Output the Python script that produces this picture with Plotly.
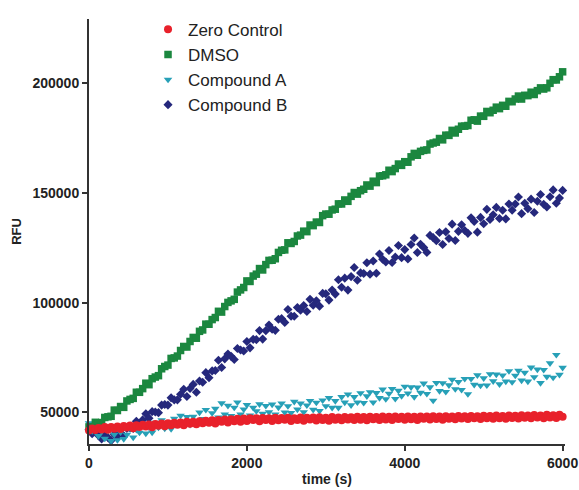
import plotly.graph_objects as go

# sampling times (s), one reading every 40 s
time_s = list(range(0, 6001, 40))

zero_control = [
    41700, 42600, 41900, 42800, 42100, 43200, 42000, 43300, 42500, 43500,
    42400, 43700, 43000, 43900, 42700, 44100, 43200, 44300, 43500, 44400,
    43100, 44600, 43800, 44900, 43600, 45000, 44100, 45200, 44300, 45300,
    44000, 45600, 44700, 45700, 44500, 45900, 45000, 46100, 45200, 46300,
    44900, 46500, 45600, 46700, 45300, 46800, 45900, 47000, 45700, 47100,
    46000, 47300, 46400, 47200, 45900, 47400, 46500, 47300, 46000, 47500,
    46300, 47400, 46600, 47500, 46000, 47300, 46500, 47600, 46100, 47500,
    46700, 47600, 46200, 47700, 46500, 47500, 46100, 47800, 46600, 47600,
    46300, 47800, 46700, 47700, 46400, 47900, 46600, 47800, 46300, 47900,
    46800, 47800, 46500, 48000, 46700, 47900, 46400, 48000, 46900, 47900,
    46600, 48100, 46800, 47900, 46500, 48100, 47000, 48000, 46700, 48200,
    46900, 48100, 46600, 48200, 47000, 48100, 46800, 48300, 47100, 48200,
    46900, 48300, 47200, 48200, 46900, 48400, 47200, 48300, 47000, 48500,
    47300, 48300, 47000, 48500, 47400, 48400, 47100, 48600, 47500, 48500,
    47200, 48700, 47600, 48500, 47300, 48800, 47600, 48600, 47400, 48800, 47900]

dmso = [
    43300, 43300, 45400, 45200, 45300, 47600, 47900, 48140, 50960, 50780,
    52600, 52220, 55140, 55840, 56320, 59100, 59080, 60760, 63240, 62560,
    65300, 66040, 66680, 69820, 70860, 71500, 74540, 74780, 75620, 78160,
    80000, 79740, 82280, 84120, 83760, 86900, 87540, 90180, 90120, 92260,
    93200, 96040, 95680, 98220, 100100, 100800, 101500, 104800, 105800, 106900,
    109900, 109660, 112120, 112980, 115540, 114900, 117360, 119260, 119340, 120020,
    122900, 123880, 124060, 127300, 127000, 127900, 130400, 130800, 132600, 132380,
    135400, 135120, 136740, 136560, 139680, 140400, 140340, 142280, 142620, 145060,
    145000, 146840, 146220, 148480, 150240, 149500, 151060, 151720, 153680, 153140,
    155400, 154760, 157720, 157880, 158320, 160400, 159780, 161160, 163240, 162620,
    164300, 164060, 166520, 168080, 167240, 169000, 169460, 169660, 172340, 172820,
    173200, 174880, 174260, 176400, 176300, 178600, 177400, 179100, 180500, 180500,
    180800, 183200, 183400, 182800, 185100, 185000, 187220, 186640, 187760, 189180,
    188500, 190020, 189580, 191820, 191660, 192900, 194240, 192880, 194580, 194440,
    196000, 194960, 196720, 197980, 197440, 198000, 200060, 201720, 201580, 203040, 205300]

compound_a = [
    45000, 41400, 44600, 39200, 41400, 38000, 41500, 36900, 39800, 37300,
    40900, 37800, 39800, 42600, 38500, 42000, 40700, 44100, 40300, 43400,
    40800, 45200, 43000, 46400, 42600, 44900, 42400, 47100, 44400, 48400,
    45500, 47900, 44300, 48000, 45700, 49900, 47000, 51100, 46400, 49600,
    51600, 47600, 54100, 49000, 53000, 48300, 52100, 54500, 49000, 51300,
    53300, 48540, 52080, 50520, 53660, 49300, 52940, 50080, 53520, 48960,
    52200, 54040, 49980, 52780, 49740, 54800, 51260, 54020, 50080, 53140,
    55200, 51160, 54420, 50580, 55440, 52800, 56540, 52080, 55120, 52060,
    57000, 54440, 58180, 53220, 56960, 54500, 58740, 54280, 57300, 59200,
    54500, 58800, 56500, 60400, 56000, 58500, 60700, 56100, 59800, 57400,
    61700, 58600, 61400, 57000, 61300, 58900, 63100, 58400, 61400, 55300,
    63400, 59700, 63300, 59320, 62360, 64900, 60540, 63880, 60220, 65260,
    58300, 65240, 62580, 66920, 62160, 65500, 62260, 67420, 64180, 67240,
    62800, 66860, 64020, 68780, 63740, 66700, 68960, 64520, 68080, 64040,
    70400, 66060, 69520, 63380, 69340, 66200, 72360, 65820, 76180, 67140, 70300]

compound_b = [
    41950, 40150, 41500, 39400, 37750, 39400, 38450, 37050, 39900, 38750,
    40600, 39150, 42650, 42800, 42600, 45850, 44900, 46500, 49300, 47300,
    50250, 50100, 49800, 53250, 53550, 53250, 56550, 55650, 55650, 58200,
    60500, 57150, 60800, 62700, 59100, 64250, 63650, 68050, 65700, 68850,
    69000, 73700, 70400, 74350, 76550, 75500, 74050, 79100, 78400, 77950,
    82250, 79370, 83240, 83110, 87230, 83350, 87220, 89780, 87820, 87360,
    92400, 92690, 90980, 96860, 93830, 93800, 97770, 96490, 98710, 95950,
    101500, 98800, 100850, 98400, 104200, 104000, 101160, 105720, 103880, 110440,
    107000, 111160, 105720, 111880, 116040, 110200, 113560, 113320, 118200, 113000,
    119000, 113400, 122200, 119800, 118520, 123800, 118280, 120760, 126040, 120520,
    124200, 119960, 126520, 129480, 122840, 126600, 125160, 122920, 130680, 129640,
    128200, 131960, 126520, 132280, 129240, 135800, 128360, 132520, 135480, 132880,
    131600, 138720, 137040, 132160, 138880, 136000, 142560, 137920, 140080, 143440,
    138400, 142160, 138200, 145000, 142200, 145000, 148200, 140600, 145360, 142880,
    147200, 141120, 146240, 149360, 144880, 143600, 148320, 151440, 145360, 147680, 151200]

names = ["Zero Control", "DMSO", "Compound A", "Compound B"]
colors = ["#e8212b", "#1b873f", "#27a0b7", "#25287c"]
symbols = ["circle", "square", "triangle-down", "diamond"]
sizes = [8, 7.5, 7.5, 7]
series = [zero_control, dmso, compound_a, compound_b]

fig = go.Figure()
# draw Compound B first, Zero Control last (on top)
for idx in [3, 2, 1, 0]:
    fig.add_trace(go.Scatter(
        x=time_s, y=series[idx], mode="markers", name=names[idx],
        legendrank=idx + 1,
        marker=dict(symbol=symbols[idx], size=sizes[idx], color=colors[idx],
                    line=dict(width=0)),
        cliponaxis=False,
    ))

font_family = "Liberation Sans, Arial, sans-serif"
axis_common = dict(
    showline=True, linecolor="#333333", linewidth=2,
    ticks="outside", ticklen=5, tickwidth=1.5, tickcolor="#333333",
    showgrid=False, zeroline=False, automargin=False,
    tickfont=dict(family=font_family, size=14, color="#222222", weight="bold"),
)

fig.update_layout(
    width=579, height=490,
    margin=dict(l=89, r=14, t=13, b=46),
    paper_bgcolor="white", plot_bgcolor="white",
    font=dict(family=font_family, color="#222222"),
    hovermode=False,
    xaxis=dict(range=[0, 6030], tickvals=[0, 2000, 4000, 6000],
               title=dict(text="time (s)", standoff=4,
                          font=dict(family=font_family, size=14, weight="bold")),
               **axis_common),
    yaxis=dict(range=[35500, 229400], tickvals=[50000, 100000, 150000, 200000],
               tickformat="d",
               title=dict(text="RFU", standoff=8,
                          font=dict(family=font_family, size=13, weight="bold")),
               **axis_common),
    legend=dict(x=0.124, y=1.017, xanchor="left", yanchor="top",
                bgcolor="rgba(0,0,0,0)", font=dict(family=font_family, size=17, color="#222222"),
                traceorder="normal", itemsizing="trace"),
    showlegend=True,
)

fig.write_html(
    "out.html",
    config={"displayModeBar": False},
    post_script="document.body.style.margin='0';document.body.style.overflow='hidden';",
)
